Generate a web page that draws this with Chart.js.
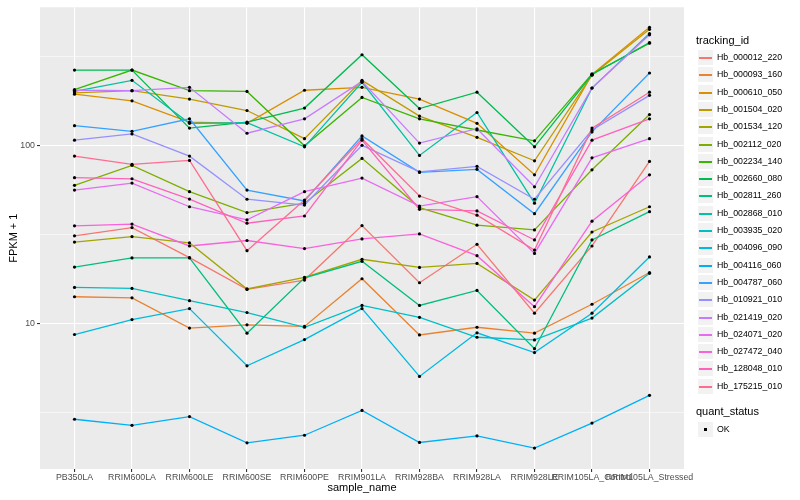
<!DOCTYPE html>
<html>
<head>
<meta charset="utf-8">
<script src="https://cdn.jsdelivr.net/npm/chart.js@4.4.1/dist/chart.umd.min.js"></script>
<style>
  html, body { margin: 0; padding: 0; background: #fff; }
  #wrap { position: relative; width: 800px; height: 500px; font-family: "Liberation Sans", Arial, sans-serif; }
  #plot { position: absolute; left: 0; top: 0; }
  .lg-title { position: absolute; left: 696px; font-size: 11px; line-height: 13px; color: #000; white-space: nowrap; }
  .lg-key { position: absolute; left: 697px; width: 17px; height: 17px; background: #F2F2F2; box-sizing: border-box; border: 1px solid #fff; }
  .lg-line { position: absolute; left: 1px; width: 13px; top: 7px; height: 1px; border-top: 0.5px solid transparent; }
  .lg-dot { position: absolute; left: 6px; top: 6px; width: 3px; height: 3px; background: #000; }
  .lg-text { position: absolute; left: 717px; font-size: 8.8px; line-height: 11px; color: #000; white-space: nowrap; }
</style>
</head>
<body>
<div id="wrap">
  <canvas id="plot" width="800" height="500"></canvas>
  <div id="legend"></div>
</div>
<script>
// Samples on the x axis
const sampleNames = ['PB350LA', 'RRIM600LA', 'RRIM600LE', 'RRIM600SE', 'RRIM600PE', 'RRIM901LA',
                     'RRIM928BA', 'RRIM928LA', 'RRIM928LE', 'RRIM105LA_Control', 'RRIM105LA_Stressed'];

// Genes (legend order)
const trackingIds = ['Hb_000012_220', 'Hb_000093_160', 'Hb_000610_050', 'Hb_001504_020', 'Hb_001534_120',
                     'Hb_002112_020', 'Hb_002234_140', 'Hb_002660_080', 'Hb_002811_260', 'Hb_002868_010',
                     'Hb_003935_020', 'Hb_004096_090', 'Hb_004116_060', 'Hb_004787_060', 'Hb_010921_010',
                     'Hb_021419_020', 'Hb_024071_020', 'Hb_027472_040', 'Hb_128048_010', 'Hb_175215_010'];

// FPKM + 1 per gene, one value per sample
const hb000012 = [31.0, 34.5, 23.4, 15.5, 17.5, 35.4, 16.9, 27.8, 11.4, 27.2, 81.2];
const hb000093 = [14.1, 13.9, 9.4, 9.8, 9.6, 17.8, 8.6, 9.5, 8.8, 12.8, 19.3];
const hb000610 = [194, 178, 135, 133, 204, 212, 182, 133, 68.3, 250, 461];
const hb001504 = [197, 203, 182, 157, 109, 232, 146, 111, 81.9, 248, 449];
const hb001534 = [28.6, 30.7, 28.3, 15.6, 18.1, 22.9, 20.6, 21.7, 13.5, 32.6, 45.2];
const hb002112 = [59.6, 77.2, 54.9, 41.9, 47.3, 84.5, 44.7, 35.6, 33.5, 72.9, 149];
const hb002234 = [206, 265, 203, 201, 99.4, 186, 141, 122, 106, 252, 375];
const hb002660 = [265, 265, 125, 135, 162, 323, 161, 199, 98.1, 250, 378];
const hb002811 = [20.7, 23.3, 23.3, 8.8, 18.0, 22.3, 12.6, 15.3, 7.2, 29.4, 42.4];
const hb002868 = [201, 232, 133, 134, 98.1, 226, 87.8, 153, 47.3, 210, 425];
const hb003935 = [15.9, 15.7, 13.4, 11.5, 9.5, 12.6, 10.8, 8.35, 8.07, 10.7, 19.1];
const hb004096 = [8.65, 10.5, 12.1, 5.77, 8.1, 12.1, 5.03, 8.84, 6.85, 11.4, 23.6];
const hb004116 = [2.89, 2.67, 2.99, 2.13, 2.35, 3.24, 2.14, 2.33, 1.99, 2.75, 3.94];
const hb004787 = [129, 120, 141, 56.1, 48.7, 113, 70.5, 73.3, 41.3, 119, 255];
const hb010921 = [107, 116, 87.0, 49.8, 46.2, 100, 71.0, 76.2, 49.8, 122, 191];
const hb021419 = [204, 203, 212, 117, 141, 229, 103, 124, 58.5, 210, 418];
const hb024071 = [56.1, 61.4, 45.2, 38.1, 54.9, 65.5, 45.6, 51.5, 24.7, 85.1, 109];
const hb027472 = [35.3, 36.1, 27.2, 29.2, 26.3, 29.8, 31.8, 24.0, 12.4, 37.5, 68.3];
const hb128048 = [65.8, 64.9, 49.9, 36.5, 40.1, 107, 43.7, 42.8, 29.4, 107, 141];
const hb175215 = [87.0, 78.2, 82.3, 25.6, 49.3, 109, 51.9, 40.5, 25.8, 125, 199];

const seriesValues = [hb000012, hb000093, hb000610, hb001504, hb001534, hb002112, hb002234, hb002660,
                      hb002811, hb002868, hb003935, hb004096, hb004116, hb004787, hb010921, hb021419,
                      hb024071, hb027472, hb128048, hb175215];

// y axis breaks
const yMajorTicks = [10, 100];
const yMinorTicks = [3.1623, 31.623, 316.23];

// ggplot default hue palette for 20 groups
const palette = ['#F8766D', '#EA8331', '#D89000', '#C09B00', '#A3A500', '#7CAE00', '#39B600', '#00BB4E',
                 '#00BF7D', '#00C1A3', '#00BFC4', '#00BAE0', '#00B0F6', '#35A2FF', '#9590FF', '#C77CFF',
                 '#E76BF3', '#FA62DB', '#FF62BC', '#FF6C91'];

const FONT = '"Liberation Sans", Arial, sans-serif';
const isMajor = v => yMajorTicks.some(m => Math.abs(m - v) < 1e-6);

// grey panel behind the grid
const panelBg = {
    id: 'panelBg',
    beforeDraw(chart) {
        const { ctx, chartArea: a } = chart;
        ctx.save();
        ctx.fillStyle = '#EBEBEB';
        ctx.fillRect(a.left, a.top, a.right - a.left, a.bottom - a.top);
        ctx.restore();
    }
};

const lineSets = seriesValues.map((vals, i) => ({
    type: 'line',
    label: trackingIds[i],
    data: vals.map((v, j) => ({ x: j, y: v })),
    borderColor: palette[i],
    borderWidth: 1.3,
    pointRadius: 0,
    tension: 0,
    fill: false,
    order: seriesValues.length - i
}));

// black points for quant_status = OK, drawn above every line
const okPoints = [];
seriesValues.forEach(vals => vals.forEach((v, j) => okPoints.push({ x: j, y: v })));

new Chart(document.getElementById('plot'), {
    type: 'line',
    data: {
        datasets: [...lineSets, {
            type: 'scatter',
            label: 'OK',
            data: okPoints,
            showLine: false,
            pointRadius: 1.6,
            pointBorderWidth: 0,
            pointBackgroundColor: '#000',
            order: 0
        }]
    },
    options: {
        responsive: false,
        animation: false,
        layout: { padding: { left: 0, right: 116, top: 5, bottom: 0 } },
        plugins: {
            legend: { display: false },
            tooltip: { enabled: false }
        },
        scales: {
            x: {
                type: 'linear',
                min: -0.6,
                max: 10.6,
                bounds: 'data',
                afterBuildTicks: s => { s.ticks = sampleNames.map((_, i) => ({ value: i })); },
                afterFit: s => { s.height = 31; },
                border: { display: false },
                grid: { color: '#FFFFFF', lineWidth: 1.1, tickColor: '#333333', tickLength: 3 },
                ticks: {
                    autoSkip: false,
                    maxRotation: 0,
                    minRotation: 0,
                    padding: 0,
                    color: '#4D4D4D',
                    font: { family: FONT, size: 8.8 },
                    callback: v => sampleNames[v]
                },
                title: {
                    display: true,
                    text: 'sample_name',
                    color: '#000',
                    font: { family: FONT, size: 11 },
                    padding: { top: 0, bottom: 5 }
                }
            },
            y: {
                type: 'logarithmic',
                min: 1.518,
                max: 597,
                bounds: 'data',
                afterBuildTicks: s => {
                    s.ticks = [...yMinorTicks, ...yMajorTicks].sort((a, b) => a - b).map(v => ({ value: v }));
                },
                afterFit: s => { s.width = 40; },
                border: { display: false },
                grid: {
                    color: '#FFFFFF',
                    lineWidth: c => (isMajor(c.tick.value) ? 1.1 : 0.55),
                    tickColor: c => (isMajor(c.tick.value) ? '#333333' : 'rgba(0,0,0,0)'),
                    tickLength: 3
                },
                ticks: {
                    padding: 2,
                    color: '#4D4D4D',
                    font: { family: FONT, size: 8.8 },
                    callback: v => (isMajor(v) ? String(v) : '')
                },
                title: {
                    display: true,
                    text: 'FPKM + 1',
                    color: '#000',
                    font: { family: FONT, size: 11 },
                    padding: { top: 7, bottom: 0 }
                }
            }
        }
    },
    plugins: [panelBg]
});

// legend in ggplot style
const legend = document.getElementById('legend');
const add = (cls, top, html) => {
    const el = document.createElement('div');
    el.className = cls;
    el.style.top = top + 'px';
    if (html !== undefined) el.innerHTML = html;
    legend.appendChild(el);
    return el;
};
const KEY = 17.3;
const firstKey = 49;
add('lg-title', 34, 'tracking_id');
trackingIds.forEach((id, i) => {
    const top = Math.round(firstKey + i * KEY);
    const key = add('lg-key', top);
    const ln = document.createElement('div');
    ln.className = 'lg-line';
    ln.style.background = palette[i];
    ln.style.height = '1.5px';
    ln.style.border = 'none';
    key.appendChild(ln);
    add('lg-text', top + 3, id);
});
add('lg-title', 405, 'quant_status');
const okKey = add('lg-key', 421);
const dot = document.createElement('div');
dot.className = 'lg-dot';
okKey.appendChild(dot);
add('lg-text', 424, 'OK');
</script>
</body>
</html>
